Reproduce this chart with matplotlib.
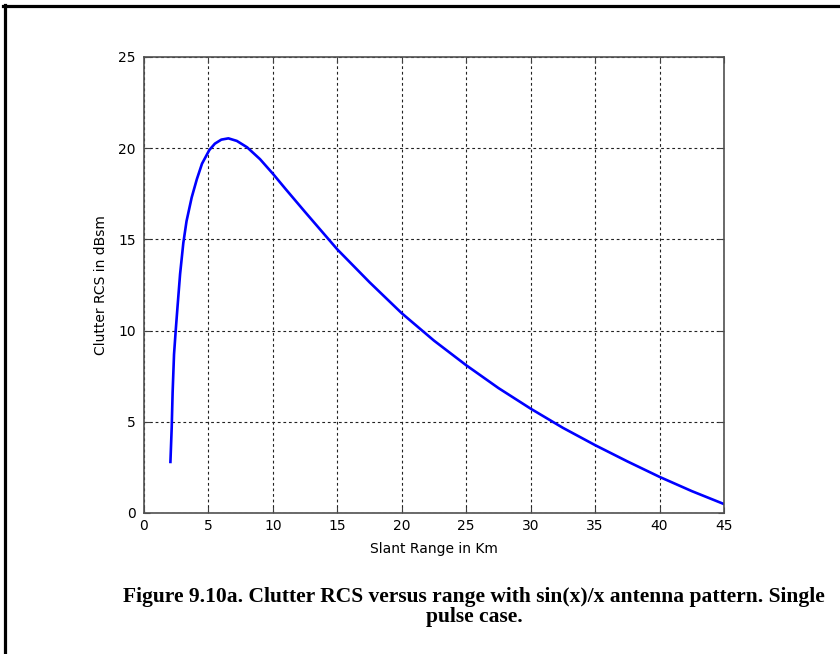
import numpy as np
import matplotlib
matplotlib.use("Agg")
import matplotlib.pyplot as plt
from matplotlib.lines import Line2D

# slant range (Km) and clutter RCS (dBsm)
range_km = [2.05, 2.15, 2.22, 2.33, 2.46, 2.6, 2.8, 3.05, 3.3, 3.7, 4.1, 4.5,
            5.07, 5.5, 6.0, 6.55, 7.2, 8.0, 9.0, 10.0, 11.0, 12.5, 15.0, 17.5,
            20.0, 22.5, 25.0, 27.5, 30.0, 32.5, 35.0, 37.5, 40.0, 42.5, 45.0]
rcs_dbsm = [2.8, 4.7, 6.6, 8.7, 10.0, 11.3, 13.1, 14.8, 16.0, 17.3, 18.3, 19.15,
            19.9, 20.25, 20.47, 20.54, 20.4, 20.05, 19.4, 18.6, 17.75, 16.5, 14.45, 12.65,
            10.95, 9.45, 8.1, 6.85, 5.72, 4.67, 3.72, 2.83, 1.98, 1.2, 0.49]

xticks = np.arange(0, 50, 5)
yticks = np.arange(0, 30, 5)

fig = plt.figure(figsize=(8.4, 6.54), dpi=100)
ax = fig.add_axes([144/840, 1-513/654, 580/840, 456/654])

ax.plot(range_km, rcs_dbsm, color='#0000ff', lw=1.9, solid_joinstyle='round')

ax.set_xlim(0, 45)
ax.set_ylim(0, 25)
ax.set_xticks(xticks)
ax.set_yticks(yticks)
ax.grid(True, color='#222222', linestyle=(0, (2.5, 2.5)), lw=0.8)
ax.tick_params(direction='in', top=True, right=True, length=4, width=0.8,
               labelsize=10, color='#404040')
ax.tick_params(axis='y', pad=6)
ax.tick_params(axis='x', pad=4)
for s in ax.spines.values():
    s.set_color('#505050')
    s.set_linewidth(1.2)

ax.set_xlabel('Slant Range in Km', fontsize=10, labelpad=7)
ax.set_ylabel('Clutter RCS in dBsm', fontsize=10, labelpad=7)

fig.text(474/840, 1-597/654, 'Figure 9.10a. Clutter RCS versus range with sin(x)/x antenna pattern. Single',
         ha='center', va='center', family='Liberation Serif', weight='bold', fontsize=15.5)
fig.text(474/840, 1-617/654, 'pulse case.',
         ha='center', va='center', family='Liberation Serif', weight='bold', fontsize=15.5)

# page frame, left and top edges
fig.add_artist(Line2D([4.5/840, 4.5/840], [0, 1-5/654], color='black', lw=2.3,
                      transform=fig.transFigure))
fig.add_artist(Line2D([3/840, 1], [1-6/654, 1-6/654], color='black', lw=2.3,
                      transform=fig.transFigure))

fig.savefig('out.png', dpi=100)
